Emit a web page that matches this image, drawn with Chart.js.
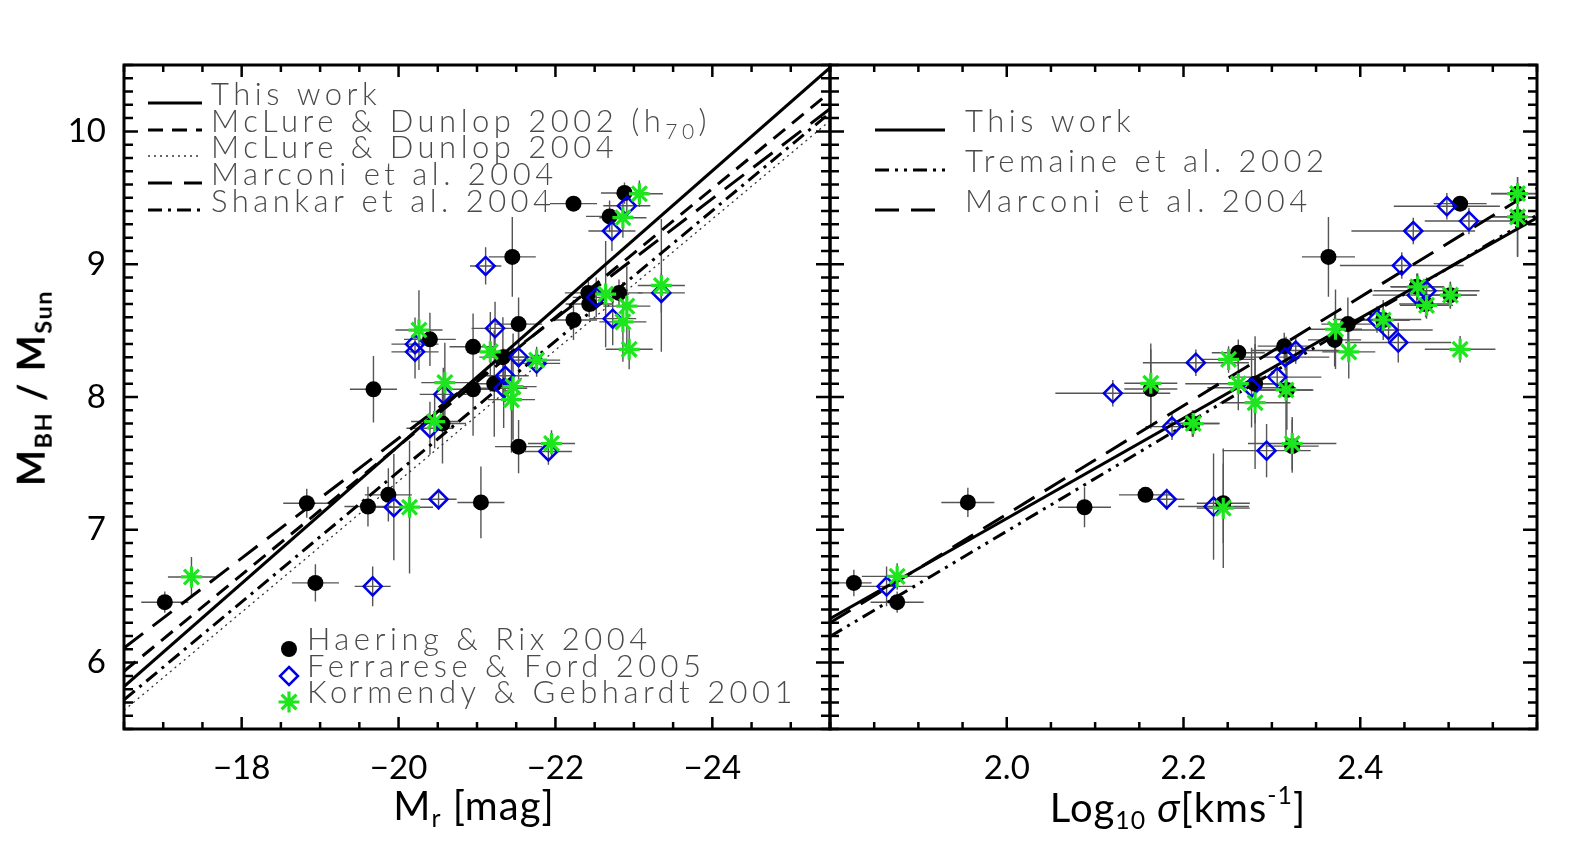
<!DOCTYPE html>
<html>
<head>
<meta charset="utf-8">
<script src="https://cdn.jsdelivr.net/npm/chart.js@4.4.1/dist/chart.umd.min.js"></script>
<style>
    html, body { margin: 0; padding: 0; background: #fff; }
    #wrap { position: relative; width: 1578px; height: 861px; overflow: hidden; }
    #wrap canvas { position: absolute; left: 0; top: 0; }
    .title { position: absolute; white-space: nowrap; font-family: Lato, 'Open Sans', sans-serif; color: #000; line-height: 1; transform: translate(-50%, -50%); }
    .title sub { font-size: 0.62em; vertical-align: -0.3em; }
    .title sup { font-size: 0.62em; vertical-align: 0.7em; }
    #ytitle { left: 33px; top: 388px; font-size: 38px; font-weight: bold; letter-spacing: 1.5px; transform: translate(-50%, -50%) rotate(-90deg); }
    #xtitleL { left: 474px; top: 808px; font-size: 40px; letter-spacing: 1px; }
    #xtitleR { left: 1178px; top: 808px; font-size: 40px; letter-spacing: 1px; }
</style>
</head>
<body>
<div id="wrap">
    <canvas id="magChart" width="1578" height="861"></canvas>
    <canvas id="sigChart" width="1578" height="861"></canvas>
    <div class="title" id="ytitle">M<sub>BH</sub> / M<sub>Sun</sub></div>
    <div class="title" id="xtitleL">M<sub>r</sub> [mag]</div>
    <div class="title" id="xtitleR">Log<sub>10</sub> <i>σ</i>[kms<sup>-1</sup>]</div>
</div>
<script>
// Eixos
const magRange = [-16.5, -25.5];
const sigRange = [1.8, 2.6];
const massRange = [5.5, 10.5];
const magTicks = [-18, -20, -22, -24];
const sigTicks = [2.0, 2.2, 2.4];
const massTicks = [6, 7, 8, 9, 10];

// Retas de ajuste: log M nas duas pontas do eixo x
const thisWorkMag = [5.82, 10.48];
const mcLure02Mag = [5.935, 10.295];
const mcLure04Mag = [5.64, 10.08];
const marconiMag = [6.11, 10.17];
const shankarMag = [5.72, 10.14];
const thisWorkSig = [6.33, 9.35];
const tremaineSig = [6.196, 9.37];
const marconiSig = [6.30, 9.57];

// Pontos: [x, erro x, log M, erro log M]
const haeringMag = [
    [-17.02, 0.3, 6.455, 0.08], [-18.83, 0.3, 7.20, 0.11], [-18.94, 0.3, 6.60, 0.14],
    [-19.68, 0.3, 8.058, 0.25], [-19.61, 0.3, 7.175, 0.15], [-19.87, 0.3, 7.263, 0.2],
    [-20.40, 0.33, 8.434, 0.2], [-20.56, 0.3, 7.80, 0.3], [-20.95, 0.3, 8.378, 0.25],
    [-20.95, 0.3, 8.058, 0.35], [-21.05, 0.3, 7.206, 0.27], [-21.22, 0.3, 8.10, 0.4],
    [-21.33, 0.3, 8.30, 0.3], [-21.53, 0.3, 8.549, 0.2], [-22.23, 0.3, 8.58, 0.15],
    [-21.53, 0.3, 7.626, 0.2], [-22.23, 0.3, 9.456, 0.05], [-22.88, 0.3, 9.536, 0.08],
    [-22.69, 0.3, 9.36, 0.12], [-21.45, 0.3, 9.055, 0.3], [-22.42, 0.3, 8.784, 0.12],
    [-22.43, 0.3, 8.70, 0.1], [-22.81, 0.3, 8.784, 0.1]
];
const ferrareseMag = [
    [-19.94, 0.3, 7.17, 0.4], [-20.51, 0.23, 7.23, 0.08], [-19.67, 0.23, 6.574, 0.15],
    [-21.11, 0.2, 8.987, 0.14], [-20.21, 0.3, 8.398, 0.2], [-20.21, 0.3, 8.34, 0.2],
    [-20.57, 0.3, 8.02, 0.2], [-20.40, 0.3, 7.765, 0.2], [-21.23, 0.3, 8.517, 0.2],
    [-21.53, 0.3, 8.30, 0.2], [-21.36, 0.3, 8.16, 0.2], [-21.34, 0.3, 8.066, 0.3],
    [-21.76, 0.3, 8.253, 0.1], [-21.91, 0.3, 7.59, 0.1], [-22.91, 0.3, 9.44, 0.1],
    [-22.72, 0.3, 9.25, 0.15], [-23.35, 0.3, 8.784, 0.15], [-22.52, 0.3, 8.75, 0.15],
    [-22.73, 0.3, 8.59, 0.2]
];
const kormendyMag = [
    [-17.36, 0.3, 6.645, 0.15], [-20.14, 0.3, 7.17, 0.5], [-20.26, 0.3, 8.504, 0.3],
    [-20.59, 0.3, 8.108, 0.3], [-20.46, 0.3, 7.815, 0.2], [-21.17, 0.3, 8.34, 0.3],
    [-21.46, 0.3, 8.078, 0.4], [-21.44, 0.3, 7.98, 0.4], [-21.76, 0.3, 8.278, 0.1],
    [-21.95, 0.3, 7.65, 0.1], [-23.07, 0.3, 9.53, 0.1], [-22.86, 0.3, 9.35, 0.15],
    [-23.35, 0.3, 8.84, 0.5], [-22.64, 0.3, 8.775, 0.4], [-22.91, 0.3, 8.684, 0.3],
    [-22.86, 0.3, 8.566, 0.3], [-22.94, 0.3, 8.359, 0.15]
];
const haeringSig = [
    [1.827, 0.02, 6.60, 0.1], [1.876, 0.03, 6.455, 0.08], [1.956, 0.03, 7.206, 0.11],
    [2.088, 0.03, 7.17, 0.15], [2.157, 0.03, 7.263, 0.05], [2.163, 0.03, 8.06, 0.3],
    [2.245, 0.03, 7.20, 0.3], [2.262, 0.03, 8.333, 0.1], [2.281, 0.03, 8.10, 0.3],
    [2.314, 0.03, 8.383, 0.1], [2.317, 0.03, 8.053, 0.3], [2.323, 0.03, 7.63, 0.2],
    [2.371, 0.03, 8.43, 0.2], [2.364, 0.03, 9.055, 0.3], [2.513, 0.03, 9.456, 0.05],
    [2.386, 0.03, 8.549, 0.2], [2.578, 0.03, 9.53, 0.1], [2.578, 0.03, 9.356, 0.3],
    [2.464, 0.03, 8.83, 0.1], [2.474, 0.03, 8.70, 0.1], [2.502, 0.03, 8.767, 0.1],
    [2.21, 0.03, 7.80, 0.1], [2.426, 0.03, 8.58, 0.15]
];
const ferrareseSig = [
    [1.864, 0.03, 6.574, 0.15], [2.12, 0.065, 8.028, 0.1], [2.181, 0.02, 7.23, 0.08],
    [2.234, 0.04, 7.175, 0.4], [2.214, 0.06, 8.258, 0.1], [2.187, 0.03, 7.777, 0.1],
    [2.294, 0.05, 7.596, 0.2], [2.277, 0.05, 8.07, 0.3], [2.306, 0.05, 8.15, 0.1],
    [2.327, 0.05, 8.35, 0.1], [2.315, 0.05, 8.30, 0.1], [2.498, 0.06, 9.436, 0.1],
    [2.523, 0.05, 9.325, 0.1], [2.46, 0.07, 9.25, 0.1], [2.447, 0.07, 8.99, 0.1],
    [2.475, 0.06, 8.80, 0.1], [2.464, 0.05, 8.767, 0.1], [2.443, 0.06, 8.41, 0.15],
    [2.432, 0.05, 8.504, 0.1], [2.419, 0.05, 8.584, 0.1]
];
const kormendySig = [
    [1.876, 0.04, 6.649, 0.1], [2.163, 0.03, 8.103, 0.3], [2.245, 0.03, 7.163, 0.45],
    [2.251, 0.03, 8.283, 0.1], [2.211, 0.03, 7.80, 0.1], [2.262, 0.06, 8.10, 0.2],
    [2.281, 0.04, 7.957, 0.5], [2.316, 0.03, 8.053, 0.4], [2.323, 0.05, 7.65, 0.2],
    [2.578, 0.03, 9.532, 0.1], [2.578, 0.03, 9.356, 0.3], [2.465, 0.03, 8.83, 0.1],
    [2.475, 0.03, 8.69, 0.1], [2.502, 0.03, 8.767, 0.1], [2.513, 0.04, 8.359, 0.1],
    [2.426, 0.03, 8.58, 0.1], [2.372, 0.03, 8.51, 0.3], [2.387, 0.03, 8.34, 0.2]
];

// Estilos
const FONT = 'Lato, "Open Sans", sans-serif';
const BLUE = '#0000e6';
const GREEN = '#1ee61e';
const ERR = '#555';
const lineStyles = {
    solid: { dash: [], width: 3, color: '#000' },
    dashed: { dash: [15, 9], width: 3, color: '#000' },
    dotted: { dash: [2, 4], width: 1.3, color: '#333' },
    longDash: { dash: [24, 12], width: 3, color: '#000' },
    dashDot: { dash: [14, 6, 3, 6], width: 3, color: '#000' },
    dashDotDot: { dash: [14, 6, 3, 6, 3, 6], width: 3, color: '#000' }
};
const markers = {
    circle: { pointStyle: 'circle', pointRadius: 8, pointBackgroundColor: '#000', pointBorderColor: '#000', pointBorderWidth: 0 },
    diamond: { pointStyle: 'rectRot', pointRadius: 9, pointBackgroundColor: 'rgba(0,0,0,0)', pointBorderColor: BLUE, pointBorderWidth: 2.5 },
    star: { pointStyle: 'star', pointRadius: 10.5, pointBackgroundColor: 'rgba(0,0,0,0)', pointBorderColor: GREEN, pointBorderWidth: 3.2 }
};

const toPts = rows => rows.map(([x, xe, y, ye]) => ({ x, y, xe, ye }));
const fitPts = (range, ends) => range.map((x, i) => ({ x, y: ends[i] }));

function pointSet(label, rows, marker) {
    return Object.assign({ type: 'scatter', label, data: toPts(rows), errors: true }, markers[marker]);
}
function fitSet(label, range, ends, style) {
    const s = lineStyles[style];
    return {
        type: 'scatter', label, data: fitPts(range, ends), showLine: true,
        borderColor: s.color, borderWidth: s.width, borderDash: s.dash, pointRadius: 0, fill: false
    };
}

// Barras de erro, desenhadas por baixo de tudo
const errorBars = {
    id: 'errorBars',
    beforeDatasetsDraw(chart) {
        const { ctx, chartArea: a, scales: { x, y } } = chart;
        ctx.save();
        ctx.beginPath();
        ctx.rect(a.left, a.top, a.right - a.left, a.bottom - a.top);
        ctx.clip();
        ctx.strokeStyle = ERR;
        ctx.lineWidth = 1.4;
        chart.data.datasets.forEach(ds => {
            if (!ds.errors) return;
            ctx.beginPath();
            ds.data.forEach(p => {
                const px = x.getPixelForValue(p.x), py = y.getPixelForValue(p.y);
                ctx.moveTo(x.getPixelForValue(p.x - p.xe), py);
                ctx.lineTo(x.getPixelForValue(p.x + p.xe), py);
                ctx.moveTo(px, y.getPixelForValue(p.y - p.ye));
                ctx.lineTo(px, y.getPixelForValue(p.y + p.ye));
            });
            ctx.stroke();
        });
        ctx.restore();
    }
};

// Moldura com marcas para dentro nos quatro lados
const frame = {
    id: 'frame',
    afterDraw(chart, args, opts) {
        const { ctx, chartArea: a, scales: { x, y } } = chart;
        ctx.save();
        ctx.strokeStyle = '#000';
        ctx.lineWidth = 2.5;
        ctx.beginPath();
        const steps = (lo, hi, st) => {
            const out = [];
            for (let v = Math.min(lo, hi); v <= Math.max(lo, hi) + 1e-9; v += st) out.push(Math.round(v * 1000) / 1000);
            return out;
        };
        const xTick = (v, len) => {
            const px = x.getPixelForValue(v);
            ctx.moveTo(px, a.bottom); ctx.lineTo(px, a.bottom - len);
            ctx.moveTo(px, a.top); ctx.lineTo(px, a.top + len);
        };
        const yTick = (v, len) => {
            const py = y.getPixelForValue(v);
            ctx.moveTo(a.left, py); ctx.lineTo(a.left + len, py);
            ctx.moveTo(a.right, py); ctx.lineTo(a.right - len, py);
        };
        steps(x.min, x.max, opts.xMinor).forEach(v => xTick(v, 7));
        opts.xMajor.forEach(v => xTick(v, 12));
        steps(y.min, y.max, opts.yMinor).forEach(v => yTick(v, 9));
        opts.yMajor.forEach(v => yTick(v, 14));
        ctx.stroke();
        ctx.lineWidth = 3;
        ctx.strokeRect(a.left, a.top, a.right - a.left, a.bottom - a.top);
        ctx.restore();
    }
};

// Legendas desenhadas no canvas
function drawMarker(ctx, kind, x, y) {
    ctx.save();
    ctx.beginPath();
    if (kind === 'circle') {
        ctx.fillStyle = '#000';
        ctx.arc(x, y, 8, 0, Math.PI * 2);
        ctx.fill();
    } else if (kind === 'diamond') {
        ctx.strokeStyle = BLUE; ctx.lineWidth = 2.5;
        ctx.moveTo(x, y - 9); ctx.lineTo(x + 9, y); ctx.lineTo(x, y + 9); ctx.lineTo(x - 9, y); ctx.closePath();
        ctx.stroke();
    } else {
        ctx.strokeStyle = GREEN; ctx.lineWidth = 3.2;
        for (let k = 0; k < 4; k++) {
            const ang = k * Math.PI / 4;
            ctx.moveTo(x - 10.5 * Math.cos(ang), y - 10.5 * Math.sin(ang));
            ctx.lineTo(x + 10.5 * Math.cos(ang), y + 10.5 * Math.sin(ang));
        }
        ctx.stroke();
    }
    ctx.restore();
}

function drawLabel(ctx, text, x, y) {
    // partes entre _{...} viram subscrito
    const parts = text.split(/(_\{[^}]*\})/);
    let cx = x;
    parts.forEach(part => {
        if (!part) return;
        const sub = part.startsWith('_{');
        const t = sub ? part.slice(2, -1) : part;
        ctx.font = (sub ? '300 21px ' : '300 31px ') + FONT;
        ctx.fillText(t, cx, sub ? y + 7 : y);
        cx += ctx.measureText(t).width;
    });
}

const legends = {
    id: 'legends',
    afterDraw(chart, args, opts) {
        const { ctx } = chart;
        ctx.save();
        ctx.fillStyle = '#4a4a4a';
        ctx.textBaseline = 'alphabetic';
        ctx.letterSpacing = opts.spacing + 'px';
        (opts.lines || []).forEach(row => {
            const s = lineStyles[row.style];
            ctx.save();
            ctx.strokeStyle = s.color;
            ctx.lineWidth = s.width;
            ctx.setLineDash(s.dash);
            ctx.beginPath();
            ctx.moveTo(opts.x0, row.y - 2);
            ctx.lineTo(opts.x1, row.y - 2);
            ctx.stroke();
            ctx.restore();
            drawLabel(ctx, row.text, opts.tx, row.y);
        });
        (opts.points || []).forEach(row => {
            drawMarker(ctx, row.marker, opts.mx, row.y - 1);
            drawLabel(ctx, row.text, opts.ptx, row.y);
        });
        ctx.restore();
    }
};

const tickFont = { family: FONT, size: 33 };

// Painel esquerdo: magnitude
new Chart(document.getElementById('magChart'), {
    type: 'scatter',
    data: {
        datasets: [
            pointSet('Kormendy & Gebhardt 2001', kormendyMag, 'star'),
            pointSet('Ferrarese & Ford 2005', ferrareseMag, 'diamond'),
            pointSet('Haering & Rix 2004', haeringMag, 'circle'),
            fitSet('This work', magRange, thisWorkMag, 'solid'),
            fitSet('McLure & Dunlop 2002', magRange, mcLure02Mag, 'dashed'),
            fitSet('McLure & Dunlop 2004', magRange, mcLure04Mag, 'dotted'),
            fitSet('Marconi et al. 2004', magRange, marconiMag, 'longDash'),
            fitSet('Shankar et al. 2004', magRange, shankarMag, 'dashDot')
        ]
    },
    options: {
        responsive: false,
        animation: false,
        events: [],
        layout: { padding: { left: 0, top: 65, right: 1578 - 830, bottom: 0 } },
        plugins: {
            legend: { display: false },
            tooltip: { enabled: false },
            frame: { xMajor: magTicks, xMinor: 0.5, yMajor: massTicks, yMinor: 0.1 },
            legends: {
                spacing: 4.5, x0: 148, x1: 202, tx: 211,
                lines: [
                    { text: 'This work', style: 'solid', y: 105 },
                    { text: 'McLure & Dunlop 2002 (h_{70})', style: 'dashed', y: 132 },
                    { text: 'McLure & Dunlop 2004', style: 'dotted', y: 158 },
                    { text: 'Marconi et al. 2004', style: 'longDash', y: 185 },
                    { text: 'Shankar et al. 2004', style: 'dashDot', y: 212 }
                ],
                mx: 289, ptx: 307,
                points: [
                    { text: 'Haering & Rix 2004', marker: 'circle', y: 650 },
                    { text: 'Ferrarese & Ford 2005', marker: 'diamond', y: 677 },
                    { text: 'Kormendy & Gebhardt 2001', marker: 'star', y: 703 }
                ]
            }
        },
        scales: {
            x: {
                type: 'linear', min: magRange[1], max: magRange[0], reverse: true,
                grid: { display: false, drawTicks: false }, border: { display: false },
                afterBuildTicks: s => { s.ticks = magTicks.map(v => ({ value: v })); },
                afterFit: s => { s.height = 861 - 729; },
                ticks: { font: tickFont, color: '#000', padding: 20, maxRotation: 0,
                    callback: v => (v < 0 ? '\u2212' : '') + Math.abs(v) }
            },
            y: {
                type: 'linear', min: massRange[0], max: massRange[1],
                grid: { display: false, drawTicks: false }, border: { display: false },
                afterBuildTicks: s => { s.ticks = massTicks.map(v => ({ value: v })); },
                afterFit: s => { s.width = 124; },
                ticks: { font: tickFont, color: '#000', padding: 18, callback: v => String(v) }
            }
        }
    },
    plugins: [errorBars, frame, legends]
});

// Painel direito: dispersão de velocidades
new Chart(document.getElementById('sigChart'), {
    type: 'scatter',
    data: {
        datasets: [
            pointSet('Kormendy & Gebhardt 2001', kormendySig, 'star'),
            pointSet('Ferrarese & Ford 2005', ferrareseSig, 'diamond'),
            pointSet('Haering & Rix 2004', haeringSig, 'circle'),
            fitSet('This work', sigRange, thisWorkSig, 'solid'),
            fitSet('Tremaine et al. 2002', sigRange, tremaineSig, 'dashDotDot'),
            fitSet('Marconi et al. 2004', sigRange, marconiSig, 'longDash')
        ]
    },
    options: {
        responsive: false,
        animation: false,
        events: [],
        layout: { padding: { left: 830, top: 65, right: 1578 - 1537, bottom: 0 } },
        plugins: {
            legend: { display: false },
            tooltip: { enabled: false },
            frame: { xMajor: sigTicks, xMinor: 0.05, yMajor: massTicks, yMinor: 0.1 },
            legends: {
                spacing: 4.5, x0: 875, x1: 945, tx: 965,
                lines: [
                    { text: 'This work', style: 'solid', y: 132 },
                    { text: 'Tremaine et al. 2002', style: 'dashDotDot', y: 172 },
                    { text: 'Marconi et al. 2004', style: 'longDash', y: 212 }
                ]
            }
        },
        scales: {
            x: {
                type: 'linear', min: sigRange[0], max: sigRange[1],
                grid: { display: false, drawTicks: false }, border: { display: false },
                afterBuildTicks: s => { s.ticks = sigTicks.map(v => ({ value: v })); },
                afterFit: s => { s.height = 861 - 729; },
                ticks: { font: tickFont, color: '#000', padding: 20, maxRotation: 0,
                    callback: v => Number(v).toFixed(1) }
            },
            y: {
                type: 'linear', min: massRange[0], max: massRange[1], display: false
            }
        }
    },
    plugins: [errorBars, frame, legends]
});
</script>
</body>
</html>
